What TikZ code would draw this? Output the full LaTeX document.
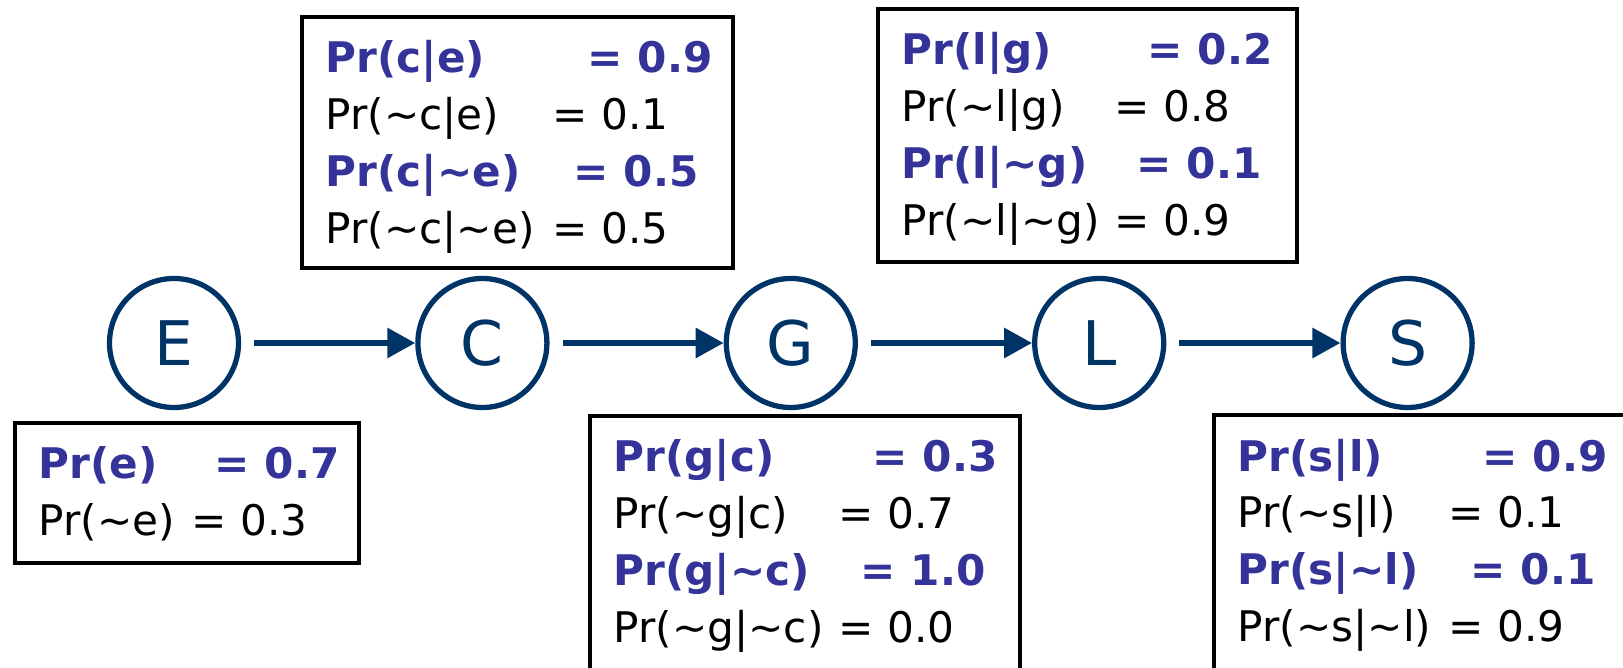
\documentclass[tikz,border=0pt]{standalone}
\usepackage{fontspec}
\setmainfont{DejaVu Sans}
\usetikzlibrary{positioning,arrows.meta}
\definecolor{navy}{RGB}{0,51,102}
\definecolor{prblue}{RGB}{51,51,153}
\newcommand{\tld}{\textasciitilde}
\newcommand{\cpline}[3]{\makebox[#1][l]{#2}#3}
\newcommand{\cphead}[3]{{\color{prblue}\bfseries\makebox[#1][l]{#2}#3}}

\begin{document}
\begin{tikzpicture}[
    >={Triangle[length=0.28cm, width=0.29cm]},
    var/.style={circle, draw=navy, line width=1.5pt, minimum size=1.29cm, inner sep=0pt,
                text=navy, font=\fontsize{17.5}{20}\selectfont},
    flow/.style={->, color=navy, line width=1.7pt, shorten <=0.13cm},
    cptbox/.style={draw, line width=1pt, anchor=north west, inner sep=0pt},
    cpt/.style={anchor=base west, inner sep=0pt, font=\fontsize{12}{16.2}\selectfont},
  ]
  \useasboundingbox (0,0) rectangle (16.23,6.67);
  \clip (0,0) rectangle (16.23,6.67);

  % ============================================================
  % Chain of variables
  % ============================================================
  \foreach \n/\i in {E/0, C/1, G/2, L/3, S/4} {
    \node[var] (\n) at (\i*3.084+1.74, 3.24) {\n};
  }
  \foreach \a/\b in {E/C, C/G, G/L, L/S} {
    \draw[flow] (\a) -- (\b);
  }

  % ============================================================
  % Probability tables
  % ============================================================
  % Pr(e)
  \node[cptbox, minimum width=3.44cm, minimum height=1.40cm] (ebox) at (0.13, 2.46) {};
  \node[cpt] (etab) at ([shift={(0.25,-0.58)}]ebox.north west)
    {\begin{tabular}[t]{@{}l@{}}
      \cphead{1.76cm}{Pr(e)}{= 0.7}\\
      \cpline{1.53cm}{Pr(\tld e)}{= 0.3}
    \end{tabular}};

  % Pr(c|e)
  \node[cptbox, minimum width=4.31cm, minimum height=2.51cm] (cbox) at (3.00, 6.52) {};
  \node[cpt] (ctab) at ([shift={(0.25,-0.58)}]cbox.north west)
    {\begin{tabular}[t]{@{}l@{}}
      \cphead{2.62cm}{Pr(c|e)}{= 0.9}\\
      \cpline{2.27cm}{Pr(\tld c|e)}{= 0.1}\\
      \cphead{2.48cm}{Pr(c|\tld e)}{= 0.5}\\
      \cpline{2.27cm}{Pr(\tld c|\tld e)}{= 0.5}
    \end{tabular}};

  % Pr(g|c)
  \node[cptbox, minimum width=4.30cm, minimum height=2.80cm] (gbox) at (5.88, 2.53) {};
  \node[cpt] (gtab) at ([shift={(0.25,-0.58)}]gbox.north west)
    {\begin{tabular}[t]{@{}l@{}}
      \cphead{2.59cm}{Pr(g|c)}{= 0.3}\\
      \cpline{2.25cm}{Pr(\tld g|c)}{= 0.7}\\
      \cphead{2.47cm}{Pr(g|\tld c)}{= 1.0}\\
      \cpline{2.25cm}{Pr(\tld g|\tld c)}{= 0.0}
    \end{tabular}};

  % Pr(l|g)
  \node[cptbox, minimum width=4.19cm, minimum height=2.53cm] (lbox) at (8.76, 6.60) {};
  \node[cpt] (ltab) at ([shift={(0.25,-0.58)}]lbox.north west)
    {\begin{tabular}[t]{@{}l@{}}
      \cphead{2.46cm}{Pr(l|g)}{= 0.2}\\
      \cpline{2.13cm}{Pr(\tld l|g)}{= 0.8}\\
      \cphead{2.35cm}{Pr(l|\tld g)}{= 0.1}\\
      \cpline{2.13cm}{Pr(\tld l|\tld g)}{= 0.9}
    \end{tabular}};

  % Pr(s|l)
  \node[cptbox, minimum width=4.30cm, minimum height=2.80cm] (sbox) at (12.12, 2.54) {};
  \node[cpt] (stab) at ([shift={(0.25,-0.58)}]sbox.north west)
    {\begin{tabular}[t]{@{}l@{}}
      \cphead{2.45cm}{Pr(s|l)}{= 0.9}\\
      \cpline{2.11cm}{Pr(\tld s|l)}{= 0.1}\\
      \cphead{2.33cm}{Pr(s|\tld l)}{= 0.1}\\
      \cpline{2.11cm}{Pr(\tld s|\tld l)}{= 0.9}
    \end{tabular}};

\end{tikzpicture}
\end{document}
